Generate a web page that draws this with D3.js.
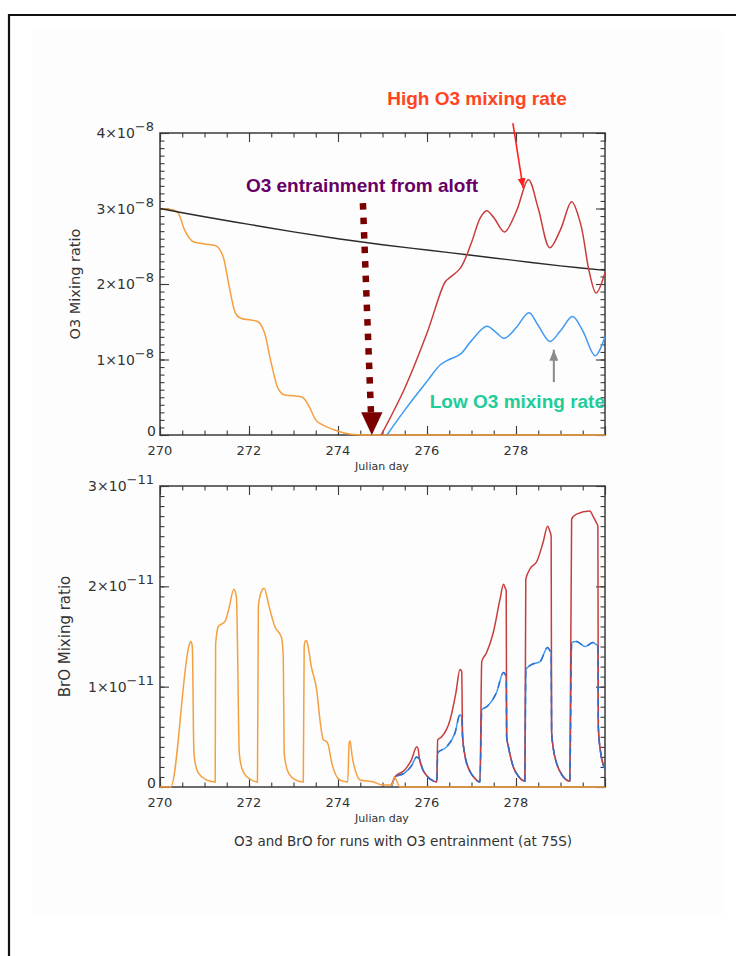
<!DOCTYPE html>
<html>
<head>
<meta charset="utf-8">
<script src="https://cdn.jsdelivr.net/npm/d3@7"></script>
<style>
  body { margin: 0; background: #fff; }
  svg { display: block; }
  text { font-family: "DejaVu Sans", sans-serif; fill: #333; }
</style>
</head>
<body>
<svg id="chart" width="736" height="956"></svg>
<script>
// ---- axis ticks -------------------------------------------------------
const dayTicks = [270, 272, 274, 276, 278, 280];
const dayTickLabels = ["270", "272", "274", "276", "278", ""];
const dayMinorTicks = d3.range(270, 280.01, 0.5);

// O3 values are in units of 1e-8, BrO values in units of 1e-11
const o3Ticks = [0, 1, 2, 3, 4];
const o3TickMantissa = ["0", "1×10", "2×10", "3×10", "4×10"];
const o3TickExponent = ["", "−8", "−8", "−8", "−8"];
const o3MinorTicks = d3.range(0, 4.001, 0.1);

const broTicks = [0, 1, 2, 3];
const broTickMantissa = ["0", "1×10", "2×10", "3×10"];
const broTickExponent = ["", "−11", "−11", "−11"];
const broMinorTicks = d3.range(0, 3.001, 0.1);

// ---- O3 mixing ratio (x1e-8) -----------------------------------------
const o3BackgroundDay = [270, 271, 272, 273, 274, 275, 276, 277, 278, 279, 280];
const o3BackgroundVal = [3.00, 2.89, 2.79, 2.69, 2.60, 2.52, 2.45, 2.38, 2.31, 2.24, 2.18];

const o3NoEntrainDay = [270, 270.3, 270.41, 270.55, 270.75, 271.0, 271.24, 271.42, 271.55, 271.69, 271.8, 272.2,
  272.35, 272.5, 272.65, 272.8, 273.0, 273.2, 273.35, 273.5, 273.7, 274.0, 274.3, 274.6, 280];
const o3NoEntrainVal = [3.00, 2.98, 2.94, 2.72, 2.56, 2.53, 2.51, 2.36, 1.98, 1.62, 1.55, 1.50,
  1.35, 0.95, 0.62, 0.53, 0.52, 0.50, 0.38, 0.20, 0.12, 0.05, 0.01, 0, 0];

const o3HighDay = [274.97, 275.5, 276.0, 276.4, 276.5, 276.75, 277.0, 277.2, 277.34, 277.5, 277.74, 278.0,
  278.28, 278.5, 278.76, 279.0, 279.25, 279.45, 279.65, 279.8, 280];
const o3HighVal = [0, 0.62, 1.35, 2.02, 2.08, 2.21, 2.55, 2.88, 2.97, 2.88, 2.69, 2.95,
  3.38, 3.0, 2.48, 2.72, 3.09, 2.8, 2.15, 1.88, 2.15];

const o3LowDay = [275.1, 275.5, 276.0, 276.3, 276.5, 276.75, 277.0, 277.34, 277.55, 277.74, 278.0, 278.29,
  278.5, 278.76, 279.0, 279.27, 279.5, 279.78, 280];
const o3LowVal = [0, 0.33, 0.71, 0.93, 1.0, 1.07, 1.25, 1.44, 1.36, 1.28, 1.42, 1.62,
  1.45, 1.24, 1.38, 1.57, 1.38, 1.05, 1.30];

// ---- BrO mixing ratio (x1e-11) ---------------------------------------
const broNoEntrainDay = [270, 270.24, 270.66, 270.69, 270.72, 270.73, 270.76, 270.79, 270.86, 271.05, 271.24,
  271.25, 271.31, 271.46, 271.55, 271.66, 271.7, 271.72, 271.74, 271.78, 271.82, 271.9, 272.05, 272.19,
  272.21, 272.28, 272.34, 272.45, 272.58, 272.73, 272.77, 272.79, 272.83, 272.9, 273.05, 273.22,
  273.24, 273.27, 273.3, 273.4, 273.52, 273.6, 273.67, 273.75, 273.78, 273.86, 273.95, 274.04, 274.22,
  274.25, 274.27, 274.32, 274.4, 274.5, 274.8, 275.0, 275.22, 275.26, 275.4, 280];
const broNoEntrainVal = [0, 0, 1.42, 1.45, 1.42, 1.35, 0.37, 0.24, 0.14, 0.07, 0.05,
  1.42, 1.60, 1.65, 1.78, 1.97, 1.93, 1.88, 1.45, 0.35, 0.22, 0.13, 0.07, 0.05,
  1.80, 1.95, 1.98, 1.80, 1.60, 1.49, 1.30, 0.35, 0.22, 0.13, 0.07, 0.05,
  1.40, 1.46, 1.45, 1.20, 0.97, 0.65, 0.47, 0.45, 0.42, 0.24, 0.12, 0.07, 0.05,
  0.44, 0.46, 0.30, 0.15, 0.07, 0.05, 0.02, 0.02, 0.10, 0, 0];

const broHighDay = [275.2, 275.28, 275.5, 275.65, 275.77, 275.8, 275.83, 275.9, 276.0, 276.1, 276.22,
  276.24, 276.33, 276.52, 276.65, 276.74, 276.78, 276.8, 276.85, 276.95, 277.05, 277.19,
  277.23, 277.34, 277.49, 277.64, 277.72, 277.76, 277.78, 277.79, 277.83, 277.94, 278.05, 278.2,
  278.22, 278.31, 278.47, 278.61, 278.71, 278.76, 278.79, 278.8, 278.84, 278.91, 279.05, 279.21,
  279.25, 279.36, 279.66, 279.73, 279.8, 279.84, 279.85, 279.9, 280];
const broHighVal = [0, 0.10, 0.17, 0.27, 0.40, 0.38, 0.28, 0.18, 0.11, 0.07, 0.05,
  0.47, 0.50, 0.67, 0.94, 1.17, 1.15, 0.50, 0.32, 0.17, 0.10, 0.05,
  1.25, 1.34, 1.54, 1.87, 2.02, 1.98, 1.96, 0.50, 0.40, 0.20, 0.11, 0.06,
  2.07, 2.17, 2.25, 2.44, 2.60, 2.55, 2.50, 0.55, 0.38, 0.24, 0.11, 0.06,
  2.67, 2.72, 2.75, 2.70, 2.64, 2.60, 0.60, 0.35, 0.18];

const broLowDay = [275.2, 275.28, 275.5, 275.65, 275.77, 275.8, 275.83, 275.9, 276.0, 276.1, 276.22,
  276.24, 276.44, 276.63, 276.74, 276.78, 276.8, 276.85, 276.95, 277.05, 277.19,
  277.23, 277.34, 277.56, 277.72, 277.76, 277.78, 277.79, 277.83, 277.94, 278.05, 278.2,
  278.22, 278.35, 278.54, 278.71, 278.76, 278.79, 278.8, 278.84, 278.91, 279.05, 279.21,
  279.25, 279.36, 279.55, 279.73, 279.8, 279.84, 279.85, 279.9, 280];
const broLowVal = [0, 0.10, 0.14, 0.21, 0.30, 0.29, 0.28, 0.18, 0.11, 0.07, 0.05,
  0.34, 0.40, 0.54, 0.72, 0.70, 0.50, 0.32, 0.17, 0.10, 0.05,
  0.77, 0.80, 0.94, 1.14, 1.12, 1.10, 0.50, 0.40, 0.20, 0.11, 0.06,
  1.17, 1.22, 1.25, 1.39, 1.36, 1.34, 0.55, 0.38, 0.24, 0.11, 0.06,
  1.44, 1.45, 1.40, 1.44, 1.42, 1.40, 0.60, 0.35, 0.18];

// ---- colours ---------------------------------------------------------
const colNoEntrain = "#f5a040";
const colBackground = "#2a2a2a";
const colHigh = "#c93c3c";
const colLow = "#3f9af2";
const colAxis = "#3a3a3a";

const svg = d3.select("#chart");

// page frame
svg.append("rect").attr("x", 32).attr("y", 30).attr("width", 691).attr("height", 885).attr("fill", "#fdfdfd");
svg.append("path").attr("d", "M9,956 V15 H736").attr("fill", "none").attr("stroke", "#111").attr("stroke-width", 2.2);

const zip = (xs, ys) => xs.map((d, i) => [d, ys[i]]);

function panel(cfg) {
  const x = d3.scaleLinear().domain([270, 280]).range([160, 605]);
  const y = d3.scaleLinear().domain(cfg.yDomain).range([cfg.bottom, cfg.top]);
  const g = svg.append("g");

  const major = 9, minor = 4.5;
  const axes = [
    [d3.axisBottom(x), `translate(0,${cfg.bottom})`, dayTicks, dayMinorTicks],
    [d3.axisTop(x), `translate(0,${cfg.top})`, dayTicks, dayMinorTicks],
    [d3.axisLeft(y), `translate(160,0)`, cfg.yTicks, cfg.yMinor],
    [d3.axisRight(y), `translate(605,0)`, cfg.yTicks, cfg.yMinor]
  ];
  axes.forEach(([ax, tr, majors, minors]) => {
    const gm = g.append("g").attr("transform", tr)
      .call(ax.tickValues(minors).tickSize(-minor).tickFormat(""));
    gm.select(".domain").remove();
    const gM = g.append("g").attr("transform", tr)
      .call(ax.tickValues(majors).tickSize(-major).tickFormat(""));
    gM.select(".domain").remove();
  });
  g.selectAll(".tick line").attr("stroke", colAxis).attr("stroke-width", 1.1);

  g.append("rect").attr("x", 160).attr("y", cfg.top)
    .attr("width", 445).attr("height", cfg.bottom - cfg.top)
    .attr("fill", "none").attr("stroke", colAxis).attr("stroke-width", 1.5);

  // day labels
  g.append("g").selectAll("text").data(dayTicks).join("text")
    .attr("x", d => x(d)).attr("y", cfg.bottom + 20)
    .attr("text-anchor", "middle").attr("font-size", 13)
    .text((d, i) => dayTickLabels[i]);
  g.append("text").attr("x", 382).attr("y", cfg.bottom + 35)
    .attr("text-anchor", "middle").attr("font-size", 11).text("Julian day");

  // mixing ratio labels: mantissa with raised exponent
  g.append("g").selectAll("text").data(cfg.yTicks).join("text")
    .attr("text-anchor", "end")
    .attr("y", d => y(d) + (d === 0 ? 1 : 5))
    .attr("x", d => d === 0 ? 156 : 154)
    .attr("font-size", 14)
    .each(function (d, i) {
      const t = d3.select(this);
      t.append("tspan").text(cfg.mantissa[i]);
      if (cfg.exponent[i]) {
        t.append("tspan").attr("dy", -7).attr("font-size", 13).text(cfg.exponent[i]);
      }
    });

  g.append("text")
    .attr("transform", `translate(${cfg.titleX},${(cfg.top + cfg.bottom) / 2}) rotate(-90)`)
    .attr("text-anchor", "middle").attr("font-size", cfg.titleSize).text(cfg.title);

  return { g, x, y };
}

// ---- upper panel: O3 -------------------------------------------------
const o3Panel = panel({
  top: 133, bottom: 435, yDomain: [0, 4], yTicks: o3Ticks, yMinor: o3MinorTicks,
  mantissa: o3TickMantissa, exponent: o3TickExponent,
  title: "O3 Mixing ratio", titleX: 80, titleSize: 14.5
});
const ox = o3Panel.x, oy = o3Panel.y;
const lineO3 = d3.line().x(d => ox(d[0])).y(d => oy(d[1])).curve(d3.curveCatmullRom.alpha(0.5));
const lineO3Mono = d3.line().x(d => ox(d[0])).y(d => oy(d[1])).curve(d3.curveMonotoneX);

const plotO3 = o3Panel.g.append("g");
plotO3.append("path").attr("d", lineO3Mono(zip(o3NoEntrainDay, o3NoEntrainVal)))
  .attr("fill", "none").attr("stroke", colNoEntrain).attr("stroke-width", 1.5);
plotO3.append("path").attr("d", lineO3(zip(o3BackgroundDay, o3BackgroundVal)))
  .attr("fill", "none").attr("stroke", colBackground).attr("stroke-width", 1.4);
plotO3.append("path").attr("d", lineO3(zip(o3HighDay, o3HighVal)))
  .attr("fill", "none").attr("stroke", colHigh).attr("stroke-width", 1.5);
plotO3.append("path").attr("d", lineO3(zip(o3LowDay, o3LowVal)))
  .attr("fill", "none").attr("stroke", colLow).attr("stroke-width", 1.5);

// annotations on the O3 panel
const defs = svg.append("defs");
function arrowHead(id, color, w, h) {
  defs.append("marker").attr("id", id).attr("viewBox", `0 0 ${w} ${h}`)
    .attr("refX", w).attr("refY", h / 2).attr("markerWidth", w).attr("markerHeight", h)
    .attr("markerUnits", "userSpaceOnUse").attr("orient", "auto")
    .append("path").attr("d", `M0,0 L${w},${h / 2} L0,${h} Z`).attr("fill", color);
}
arrowHead("headRed", "#ff2020", 10, 8);
arrowHead("headGrey", "#8a8a8a", 11, 9);

const annFont = "'Liberation Sans', Arial, sans-serif";
const ann = svg.append("g");
ann.append("text").attr("x", 477).attr("y", 105).attr("text-anchor", "middle")
  .style("font-family", annFont).style("fill", "#ff4422")
  .attr("font-weight", "bold").attr("font-size", 19).text("High O3 mixing rate");
ann.append("line")
  .attr("x1", ox(277.93)).attr("y1", oy(4.13))
  .attr("x2", ox(278.16)).attr("y2", oy(3.27))
  .attr("stroke", "#ff2020").attr("stroke-width", 1.6).attr("marker-end", "url(#headRed)");

ann.append("text").attr("x", 362).attr("y", 192).attr("text-anchor", "middle")
  .style("font-family", annFont).style("fill", "#660066")
  .attr("font-weight", "bold").attr("font-size", 19).text("O3 entrainment from aloft");

// dotted arrow marking the entrainment onset
ann.append("line")
  .attr("x1", ox(274.56)).attr("y1", oy(3.07))
  .attr("x2", ox(274.74)).attr("y2", oy(0.3))
  .attr("stroke", "#7a0000").attr("stroke-width", 6.5).attr("stroke-dasharray", "6.5,8");
ann.append("path")
  .attr("d", `M${ox(274.52)},${oy(0.3)} L${ox(275.0)},${oy(0.3)} L${ox(274.76)},${oy(0)} Z`)
  .attr("fill", "#7a0000");

ann.append("text").attr("x", 605).attr("y", 408).attr("text-anchor", "end")
  .style("font-family", annFont).style("fill", "#22cc99")
  .attr("font-weight", "bold").attr("font-size", 19).text("Low O3 mixing rate");
ann.append("line")
  .attr("x1", ox(278.85)).attr("y1", oy(0.70))
  .attr("x2", ox(278.85)).attr("y2", oy(1.13))
  .attr("stroke", "#8a8a8a").attr("stroke-width", 2).attr("marker-end", "url(#headGrey)");

// ---- lower panel: BrO ------------------------------------------------
const broPanel = panel({
  top: 486, bottom: 787, yDomain: [0, 3], yTicks: broTicks, yMinor: broMinorTicks,
  mantissa: broTickMantissa, exponent: broTickExponent,
  title: "BrO Mixing ratio", titleX: 70, titleSize: 15
});
const bx = broPanel.x, by = broPanel.y;
const lineBro = d3.line().x(d => bx(d[0])).y(d => by(d[1])).curve(d3.curveMonotoneX);

const plotBro = broPanel.g.append("g");
const lowPath = lineBro(zip(broLowDay, broLowVal));
// low-rate run underneath, high-rate run on top, then the low-rate run
// again as dashes so it stays visible where both runs coincide
plotBro.append("path").attr("d", lowPath)
  .attr("fill", "none").attr("stroke", colLow).attr("stroke-width", 1.5);
plotBro.append("path").attr("d", lineBro(zip(broHighDay, broHighVal)))
  .attr("fill", "none").attr("stroke", colHigh).attr("stroke-width", 1.5);
plotBro.append("path").attr("d", lowPath)
  .attr("fill", "none").attr("stroke", "#2f6fd0").attr("stroke-width", 1.5)
  .attr("stroke-dasharray", "7,6");
plotBro.append("path").attr("d", lineBro(zip(broNoEntrainDay, broNoEntrainVal)))
  .attr("fill", "none").attr("stroke", colNoEntrain).attr("stroke-width", 1.5);

// caption
svg.append("text").attr("x", 403).attr("y", 846).attr("text-anchor", "middle")
  .attr("font-size", 13.5).text("O3 and BrO for runs with O3 entrainment (at 75S)");
</script>
</body>
</html>
